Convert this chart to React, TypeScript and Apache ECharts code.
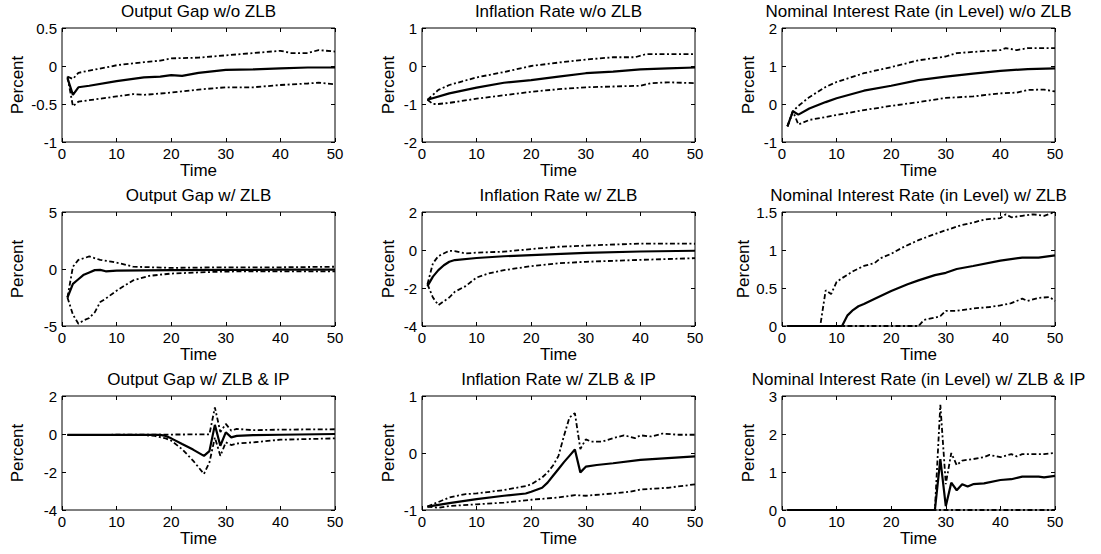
import React, { useEffect, useRef } from "react";
import * as echarts from "echarts";

type Pt = [number, number];

const titles = [
  "Output Gap w/o ZLB",
  "Inflation Rate w/o ZLB",
  "Nominal Interest Rate (in Level) w/o ZLB",
  "Output Gap w/ ZLB",
  "Inflation Rate w/ ZLB",
  "Nominal Interest Rate (in Level) w/ ZLB",
  "Output Gap w/ ZLB & IP",
  "Inflation Rate w/ ZLB & IP",
  "Nominal Interest Rate (in Level) w/ ZLB & IP",
];

const yMins = [-1, -2, -1, -5, -4, 0, -4, -1, 0];
const yMaxs = [0.5, 1, 2, 5, 2, 1.5, 2, 1, 3];
const yIntervals = [0.5, 1, 1, 5, 2, 0.5, 2, 1, 1];

const xMin = 0;
const xMax = 50;
const xInterval = 10;

// Panel 1: Output Gap w/o ZLB
const og1Mean: Pt[] = [[1,-0.16],[2,-0.38],[3,-0.28],[5,-0.26],[10,-0.2],[15,-0.15],[18,-0.14],[20,-0.12],[22,-0.13],[25,-0.09],[30,-0.05],[35,-0.045],[40,-0.03],[45,-0.02],[48,-0.02],[50,-0.02]];
const og1Upper: Pt[] = [[1,-0.14],[2,-0.17],[3,-0.09],[5,-0.06],[8,-0.02],[10,0.01],[15,0.05],[18,0.07],[20,0.1],[25,0.11],[30,0.14],[35,0.17],[40,0.2],[42,0.17],[45,0.17],[47,0.21],[50,0.19]];
const og1Lower: Pt[] = [[1,-0.14],[2,-0.53],[3,-0.47],[5,-0.45],[10,-0.4],[13,-0.37],[15,-0.38],[20,-0.35],[25,-0.31],[30,-0.28],[35,-0.28],[40,-0.25],[45,-0.23],[47,-0.22],[50,-0.24]];

// Panel 2: Inflation Rate w/o ZLB
const inf1Mean: Pt[] = [[1,-0.89],[5,-0.72],[10,-0.57],[15,-0.44],[20,-0.37],[25,-0.28],[30,-0.19],[35,-0.15],[40,-0.09],[45,-0.06],[50,-0.04]];
const inf1Upper: Pt[] = [[1,-0.89],[3,-0.63],[5,-0.5],[10,-0.3],[15,-0.16],[20,0],[25,0.09],[30,0.17],[35,0.23],[39,0.23],[41,0.31],[45,0.31],[50,0.31]];
const inf1Lower: Pt[] = [[1,-0.89],[2,-1.0],[3,-1.0],[5,-0.97],[10,-0.86],[15,-0.77],[20,-0.68],[25,-0.61],[30,-0.56],[35,-0.54],[40,-0.52],[42,-0.45],[45,-0.43],[50,-0.45]];

// Panel 3: Nominal Interest Rate w/o ZLB
const nir1Mean: Pt[] = [[1,-0.59],[2,-0.19],[3,-0.28],[5,-0.12],[8,0.05],[10,0.15],[15,0.35],[20,0.48],[25,0.63],[30,0.72],[35,0.8],[40,0.87],[45,0.92],[50,0.94]];
const nir1Upper: Pt[] = [[1,-0.59],[2,-0.19],[3,-0.05],[5,0.18],[8,0.45],[10,0.58],[15,0.81],[20,0.97],[25,1.15],[30,1.25],[32,1.34],[35,1.37],[40,1.42],[41,1.47],[43,1.42],[45,1.47],[50,1.47]];
const nir1Lower: Pt[] = [[1,-0.59],[2,-0.19],[3,-0.54],[5,-0.42],[10,-0.29],[15,-0.16],[20,-0.05],[25,0.05],[30,0.16],[35,0.2],[40,0.28],[43,0.3],[45,0.37],[48,0.38],[50,0.33]];

// Panel 4: Output Gap w/ ZLB
const og2Mean: Pt[] = [[1,-2.5],[2,-1.3],[3,-0.9],[4,-0.5],[5,-0.3],[6,-0.1],[7,-0.08],[8,-0.2],[10,-0.15],[20,-0.1],[30,-0.08],[40,-0.06],[50,-0.05]];
const og2Upper: Pt[] = [[1,-2.5],[2,0.2],[3,0.8],[5,1.1],[7,0.8],[9,0.65],[11,0.45],[13,0.2],[20,0.1],[30,0.15],[40,0.15],[50,0.2]];
const og2Lower: Pt[] = [[1,-2.5],[2,-4.0],[3,-4.8],[4,-4.5],[5,-4.3],[6,-3.8],[7,-2.9],[8,-2.6],[10,-1.9],[13,-1.0],[16,-0.6],[20,-0.4],[25,-0.3],[30,-0.22],[40,-0.2],[50,-0.2]];

// Panel 5: Inflation Rate w/ ZLB
const inf2Mean: Pt[] = [[1,-1.9],[2,-1.4],[3,-1.06],[4,-0.8],[5,-0.62],[6,-0.53],[10,-0.42],[15,-0.33],[20,-0.27],[30,-0.15],[40,-0.08],[50,-0.04]];
const inf2Upper: Pt[] = [[1,-1.8],[2,-0.7],[3,-0.32],[5,-0.04],[6,-0.06],[8,-0.18],[10,-0.14],[15,-0.09],[20,0.05],[25,0.17],[30,0.23],[40,0.34],[50,0.33]];
const inf2Lower: Pt[] = [[1,-1.8],[2,-2.5],[3,-2.9],[4,-2.7],[5,-2.5],[6,-2.2],[8,-1.9],[10,-1.45],[12,-1.25],[15,-1.06],[20,-0.85],[25,-0.7],[30,-0.62],[40,-0.52],[50,-0.43]];

// Panel 6: Nominal Interest Rate w/ ZLB
const nir2Mean: Pt[] = [[1,0],[11,0],[12,0.14],[13,0.21],[14,0.26],[15,0.29],[17,0.36],[20,0.46],[22,0.52],[23,0.55],[25,0.6],[28,0.67],[30,0.7],[32,0.75],[35,0.79],[40,0.86],[44,0.9],[47,0.9],[50,0.93]];
const nir2Upper: Pt[] = [[1,0],[7,0],[8,0.47],[9,0.42],[10,0.58],[11,0.63],[13,0.72],[15,0.79],[17,0.83],[18,0.89],[20,0.95],[22,1.03],[25,1.13],[28,1.21],[30,1.26],[33,1.33],[35,1.36],[37,1.4],[40,1.42],[41,1.47],[42,1.43],[44,1.45],[46,1.47],[48,1.45],[50,1.5]];
const nir2Lower: Pt[] = [[1,0],[25,0],[26,0.08],[28,0.11],[29,0.13],[30,0.2],[32,0.2],[35,0.23],[38,0.25],[40,0.27],[42,0.3],[44,0.36],[45,0.33],[47,0.37],[49,0.38],[50,0.33]];

// Panel 7: Output Gap w/ ZLB & IP
const og3Mean: Pt[] = [[1,-0.05],[18,-0.05],[19,-0.1],[20,-0.23],[22,-0.53],[24,-0.82],[26,-1.15],[27,-0.9],[28,0.48],[29,-0.62],[30,0.09],[31,-0.18],[32,-0.1],[35,-0.06],[40,-0.04],[50,0]];
const og3Upper: Pt[] = [[1,-0.05],[27,-0.02],[28,1.4],[29,0.1],[30,0.53],[31,0.18],[32,0.27],[35,0.2],[40,0.23],[50,0.25]];
const og3Lower: Pt[] = [[1,-0.05],[15,-0.06],[17,-0.1],[19,-0.23],[20,-0.35],[22,-0.8],[24,-1.4],[26,-2.1],[27,-1.5],[28,-0.18],[29,-1.15],[30,-0.44],[31,-0.58],[32,-0.5],[35,-0.44],[40,-0.3],[50,-0.23]];

// Panel 8: Inflation Rate w/ ZLB & IP
const inf3Mean: Pt[] = [[1,-0.94],[5,-0.88],[10,-0.81],[15,-0.75],[19,-0.71],[20,-0.68],[22,-0.61],[23,-0.52],[24,-0.4],[25,-0.28],[26,-0.16],[27,-0.05],[28,0.06],[29,-0.34],[30,-0.24],[32,-0.21],[35,-0.18],[40,-0.12],[45,-0.09],[50,-0.06]];
const inf3Upper: Pt[] = [[1,-0.94],[5,-0.78],[8,-0.72],[10,-0.71],[15,-0.65],[19,-0.58],[20,-0.55],[22,-0.43],[23,-0.34],[24,-0.22],[25,-0.05],[26,0.3],[27,0.62],[28,0.7],[29,0.07],[30,0.24],[31,0.2],[33,0.2],[35,0.26],[37,0.31],[39,0.26],[40,0.31],[42,0.29],[44,0.34],[47,0.32],[50,0.32]];
const inf3Lower: Pt[] = [[1,-0.94],[3,-0.96],[5,-0.93],[10,-0.9],[15,-0.87],[20,-0.82],[25,-0.78],[28,-0.74],[30,-0.75],[35,-0.71],[38,-0.68],[40,-0.64],[45,-0.61],[50,-0.55]];

// Panel 9: Nominal Interest Rate w/ ZLB & IP
const nir3Mean: Pt[] = [[1,0],[28,0],[29,1.34],[30,0.1],[31,0.72],[32,0.52],[33,0.68],[34,0.62],[35,0.68],[37,0.7],[40,0.79],[42,0.81],[44,0.88],[47,0.88],[48,0.86],[50,0.9]];
const nir3Upper: Pt[] = [[1,0],[28,0],[29,2.77],[30,0.68],[31,1.5],[32,1.18],[33,1.3],[35,1.34],[37,1.39],[38,1.45],[40,1.39],[42,1.47],[43,1.41],[44,1.47],[48,1.47],[50,1.5]];
const nir3Lower: Pt[] = [[1,0],[50,0]];

const means = [og1Mean, inf1Mean, nir1Mean, og2Mean, inf2Mean, nir2Mean, og3Mean, inf3Mean, nir3Mean];
const uppers = [og1Upper, inf1Upper, nir1Upper, og2Upper, inf2Upper, nir2Upper, og3Upper, inf3Upper, nir3Upper];
const lowers = [og1Lower, inf1Lower, nir1Lower, og2Lower, inf2Lower, nir2Lower, og3Lower, inf3Lower, nir3Lower];

const FONT = "'Liberation Sans', Arial, Helvetica, sans-serif";
const colLefts = [62, 422, 782];
const plotWidth = 273;
const rowTops = [28, 212, 396];
const plotHeight = 114;
const yNameGaps = [36, 25, 25];
const DASHDOT = [5, 2.5, 2, 2.5];

function buildOption() {
  const grid: any[] = [];
  const xAxis: any[] = [];
  const yAxis: any[] = [];
  const title: any[] = [];
  const series: any[] = [];
  for (let i = 0; i < 9; i++) {
    const r = Math.floor(i / 3);
    const c = i % 3;
    const left = colLefts[c];
    const top = rowTops[r];
    grid.push({
      left, top, width: plotWidth, height: plotHeight,
      show: true, borderColor: "#000", borderWidth: 1, backgroundColor: "#fff",
      containLabel: false,
    });
    title.push({
      text: titles[i],
      left: left + plotWidth / 2,
      top: top - 25,
      textAlign: "center",
      padding: 0,
      textStyle: { fontSize: 17, fontWeight: "normal", color: "#000", fontFamily: FONT },
    });
    const tick = { show: true, inside: true, length: 4, lineStyle: { color: "#000", width: 1 } };
    const line = { show: false, onZero: false };
    xAxis.push({
      type: "value", gridIndex: i, min: xMin, max: xMax, interval: xInterval, position: "bottom",
      axisLine: line, axisTick: tick, splitLine: { show: false },
      axisLabel: { color: "#000", fontSize: 15, fontFamily: FONT, margin: 4 },
      name: "Time", nameLocation: "middle", nameGap: 20,
      nameTextStyle: { color: "#000", fontSize: 17, fontFamily: FONT },
    });
    xAxis.push({
      type: "value", gridIndex: i, min: xMin, max: xMax, interval: xInterval, position: "top",
      axisLine: line, axisTick: tick, splitLine: { show: false },
      axisLabel: { show: false },
    });
    yAxis.push({
      type: "value", gridIndex: i, min: yMins[i], max: yMaxs[i], interval: yIntervals[i], position: "left",
      axisLine: line, axisTick: tick, splitLine: { show: false },
      axisLabel: { color: "#000", fontSize: 15, fontFamily: FONT, margin: 5 },
      name: "Percent", nameLocation: "middle", nameGap: yNameGaps[c],
      nameTextStyle: { color: "#000", fontSize: 17, fontFamily: FONT },
    });
    yAxis.push({
      type: "value", gridIndex: i, min: yMins[i], max: yMaxs[i], interval: yIntervals[i], position: "right",
      axisLine: line, axisTick: tick, splitLine: { show: false },
      axisLabel: { show: false },
    });
    const base = { type: "line", xAxisIndex: 2 * i, yAxisIndex: 2 * i, showSymbol: false, symbol: "none", silent: true };
    series.push({ ...base, data: uppers[i], lineStyle: { color: "#000", width: 1.8, type: DASHDOT } });
    series.push({ ...base, data: lowers[i], lineStyle: { color: "#000", width: 1.8, type: DASHDOT } });
    series.push({ ...base, data: means[i], lineStyle: { color: "#000", width: 2.2, type: "solid" } });
  }
  return { animation: false, backgroundColor: "#fff", title, grid, xAxis, yAxis, series };
}

export default function App() {
  const ref = useRef<HTMLDivElement>(null);
  useEffect(() => {
    document.body.style.margin = "0";
    if (!ref.current) return;
    const chart = echarts.init(ref.current, undefined, { renderer: "svg" });
    chart.setOption(buildOption() as any);
    return () => chart.dispose();
  }, []);
  return <div ref={ref} style={{ width: 1101, height: 554 }} />;
}
